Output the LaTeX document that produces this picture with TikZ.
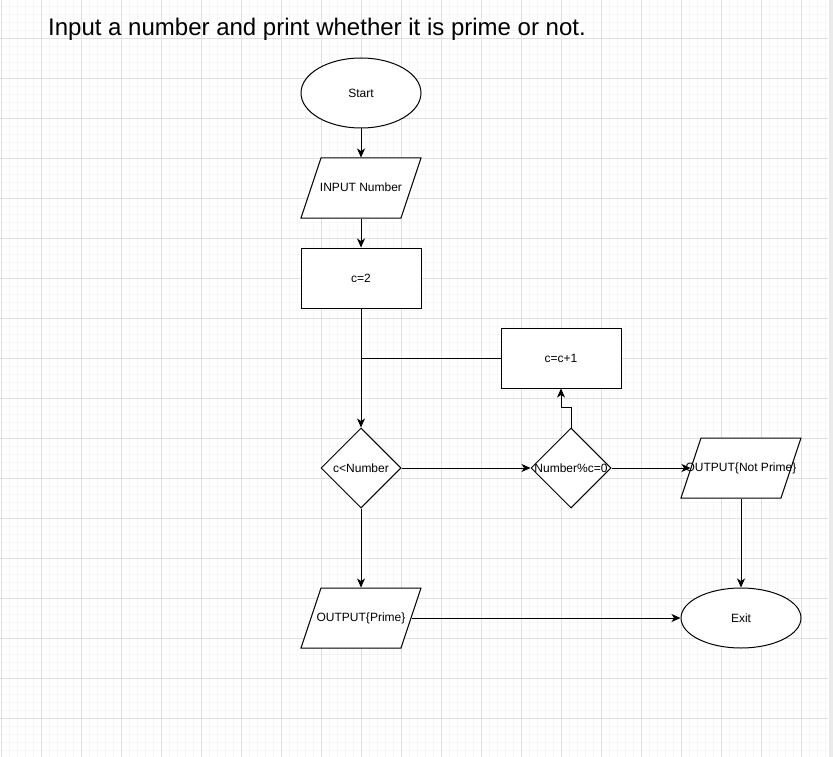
\documentclass[tikz,border=0pt]{standalone}
\usepackage{fontspec}
\setmainfont{Liberation Sans}
\usetikzlibrary{shapes.geometric,arrows.meta}
\begin{document}
\begin{tikzpicture}[x=1pt,y=-1pt,
  every node/.style={font=\fontsize{12}{14}\selectfont, inner sep=0pt},
  box/.style={draw, line width=1pt, fill=white, minimum width=120pt, minimum height=60pt},
  term/.style={draw, line width=1pt, fill=white, ellipse, minimum width=120pt},
  io/.style={draw, line width=1pt, fill=white, trapezium, trapezium left angle=71.57, trapezium right angle=108.43, trapezium stretches body=true, inner xsep=0pt, inner ysep=24pt, text height=9pt, text depth=3pt, minimum width=120pt},
  dec/.style={draw, line width=1pt, fill=white, diamond, minimum width=80pt, minimum height=80pt},
  conn/.style={line width=1pt},
  arr/.style={conn, -{Stealth[length=9pt,width=8pt,inset=2.5pt]}},
  major/.style={draw=black!12, line width=0.8pt},
  minor/.style={draw=black!3.5, line width=0.8pt}]
\useasboundingbox (0,0) rectangle (833,757);
\fill[white] (0,0) rectangle (833,757);
% grid
\foreach \i in {0,...,103} \draw[minor] ({1.7+8*\i},0) -- ({1.7+8*\i},757);
\foreach \i in {0,...,93} \draw[minor] (0,{6.3+8*\i}) -- (828,{6.3+8*\i});
\foreach \i in {0,...,20} \draw[major] ({1.7+40*\i},0) -- ({1.7+40*\i},757);
\foreach \i in {0,...,17} \draw[major] (0,{38.3+40*\i}) -- (828,{38.3+40*\i});
\fill[black!8] (829,0) rectangle (833,757);
% title
\node[anchor=base west, font=\fontsize{24}{28}\selectfont] (title) at (48,36) {Input a number and print whether it is prime or not.};
% nodes
\node[term, minimum height=70pt] (start) at (361,93) {Start};
\node[io] (inp) at (361,188) {\makebox[0pt]{INPUT Number}};
\node[box] (c2) at (361,278) {c=2};
\node[box] (cinc) at (561,358) {c=c+1};
\node[dec] (d1) at (361,468) {\makebox[0pt]{c<Number}};
\node[dec] (d2) at (571,468) {\makebox[0pt]{Number\%c=0}};
\node[io] (onp) at (741,468) {\makebox[0pt]{OUTPUT\{Not Prime\}}};
\node[io] (op) at (361,618) {\makebox[0pt]{OUTPUT\{Prime\}}};
\node[term, minimum height=60pt] (exit) at (741,618) {Exit};
% connectors
\draw[arr] (start.south) -- (inp.north);
\draw[arr] (inp.south) -- (c2.north);
\draw[arr] (c2.south) -- (d1.north);
\draw[conn] (c2.south |- cinc.west) -- (cinc.west);
\draw[arr] (d1.east) -- (d2.west);
\draw[arr] (d2.north) -- ++(0,-20) -| (cinc.south);
\draw[arr] (d2.east) -- (onp.left side);
\draw[arr] (onp.south) -- (exit.north);
\draw[arr] (d1.south) -- (op.north);
\draw[arr] (op.right side) -- (exit.west);
\end{tikzpicture}
\end{document}
